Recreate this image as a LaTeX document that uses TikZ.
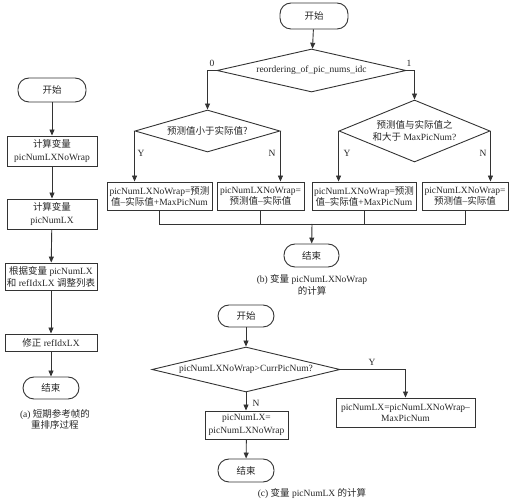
\documentclass[tikz,border=0pt]{standalone}
\usepackage{fontspec}
\setmainfont{Liberation Serif}
\newfontfamily\cjk{Noto Sans CJK SC}
\newcommand{\zh}[1]{{\cjk #1}}
\usetikzlibrary{shapes.geometric,arrows.meta}

\begin{document}
\begin{tikzpicture}[x=1pt,y=-1pt,
    every node/.style={font=\fontsize{9.5}{13}\selectfont,text=black!85},
    line/.style={draw=black!80,line width=0.9pt},
    arrow/.style={line,-{Triangle[length=6pt,width=5pt]}},
    terminal/.style={line,rectangle,rounded corners=11pt,inner sep=0pt,minimum height=#1},
    terminal/.default=22pt,
    stepbox/.style={line,rectangle,align=center,inner sep=1pt},
    decision/.style={line,diamond,align=center,inner sep=0pt},
    branch/.style={inner sep=0pt},
    caption/.style={align=center,font=\fontsize{9.5}{11.5}\selectfont}]

    \useasboundingbox (0,0) rectangle (515,502);

    % draw chart (a)
    \node[terminal=24pt,minimum width=68pt] (aStart) at (52,90) {\zh{开始}};
    \node[stepbox,minimum width=90pt,minimum height=30pt] (aCalcWrap) at (52,151) {\zh{计算变量}\\picNumLXNoWrap};
    \node[stepbox,minimum width=90pt,minimum height=30pt] (aCalcLX) at (52,214) {\zh{计算变量}\\picNumLX};
    \node[stepbox,minimum width=92pt,minimum height=27pt,font=\fontsize{9.5}{12}\selectfont] (aAdjust) at (51,276.5) {\zh{根据变量} picNumLX\\\zh{和} refIdxLX \zh{调整列表}};
    \node[stepbox,minimum width=92pt,minimum height=17pt] (aFix) at (51,342.5) {\zh{修正} refIdxLX};
    \node[terminal,minimum width=56pt] (aEnd) at (51,388) {\zh{结束}};
    \node[caption] (aCap) at (55,419.5) {(a) \zh{短期参考帧的}\\\zh{重排序过程}};

    \draw[arrow] (aStart) -- (aCalcWrap);
    \draw[arrow] (aCalcWrap) -- (aCalcLX);
    \draw[arrow] (aCalcLX) -- (aAdjust);
    \draw[arrow] (aAdjust) -- (aFix);
    \draw[arrow] (aFix) -- (aEnd);

    % draw chart (b)
    \node[terminal=26pt,minimum width=68pt] (bStart) at (314,16) {\zh{开始}};
    \node[decision,shape aspect=4.4,minimum width=189pt,minimum height=43pt] (bIdc) at (311.5,70.5) {reordering\_of\_pic\_nums\_idc};
    \node[decision,shape aspect=3.45,minimum width=145pt,minimum height=42pt] (bLess) at (207.5,131) {\zh{预测值小于实际值?}};
    \node[decision,shape aspect=2.44,minimum width=151pt,minimum height=62pt,font=\fontsize{9.5}{12}\selectfont] (bSum) at (414.5,131) {\zh{预测值与实际值之}\\\zh{和大于} MaxPicNum?};
    \node[stepbox,minimum width=105pt,minimum height=28pt,font=\fontsize{9.5}{11}\selectfont] (bBoxA) at (159.5,196) {picNumLXNoWrap=\zh{预测}\\\zh{值}--\zh{实际值}+MaxPicNum};
    \node[stepbox,minimum width=87pt,minimum height=28pt,font=\fontsize{9.5}{11}\selectfont] (bBoxB) at (260.5,196) {picNumLXNoWrap=\\\zh{预测值}--\zh{实际值}};
    \node[stepbox,minimum width=104pt,minimum height=28pt,font=\fontsize{9.5}{11}\selectfont] (bBoxC) at (364,196) {picNumLXNoWrap=\zh{预测}\\\zh{值}--\zh{实际值}+MaxPicNum};
    \node[stepbox,minimum width=86pt,minimum height=28pt,font=\fontsize{9.5}{11}\selectfont] (bBoxD) at (465,196) {picNumLXNoWrap=\\\zh{预测值}--\zh{实际值}};
    \coordinate (bJoin) at (312,224);
    \node[terminal=23pt,minimum width=55pt] (bEnd) at (311.5,255.5) {\zh{结束}};
    \node[caption] (bCap) at (312,285) {(b) \zh{变量} picNumLXNoWrap\\\zh{的计算}};

    % draw branch labels
    \node[branch] (bZero) at (212,63) {0};
    \node[branch] (bOne) at (409,63) {1};
    \node[branch] (bLessY) at (141,153) {Y};
    \node[branch] (bLessN) at (272,153) {N};
    \node[branch] (bSumY) at (347,153) {Y};
    \node[branch] (bSumN) at (483,153) {N};

    \draw[arrow] (bStart) -- (bIdc);
    \draw[arrow] (bIdc.west) -| (bLess.north);
    \draw[arrow] (bIdc.east) -| (bSum.north);
    \draw[arrow] (bLess.west) -- (bLess.west |- bBoxA.north);
    \draw[arrow] (bLess.east) -- (bLess.east |- bBoxB.north);
    \draw[arrow] (bSum.west) -- (bSum.west |- bBoxC.north);
    \draw[arrow] (bSum.east) -- (bSum.east |- bBoxD.north);
    \draw[line] (bBoxA.south) |- (bBoxD.south |- bJoin) -- (bBoxD.south);
    \draw[line] (bBoxB.south) -- (bBoxB.south |- bJoin);
    \draw[line] (bBoxC.south) -- (bBoxC.south |- bJoin);
    \draw[arrow] (bJoin) -- (bEnd);

    % draw chart (c)
    \node[terminal,minimum width=56pt] (cStart) at (246,316) {\zh{开始}};
    \node[decision,shape aspect=4.18,minimum width=188pt,minimum height=45pt] (cCmp) at (246,369.5) {picNumLXNoWrap>CurrPicNum?};
    \node[stepbox,minimum width=139pt,minimum height=29pt,font=\fontsize{9.5}{11}\selectfont] (cWrap) at (405.5,412.5) {picNumLX=picNumLXNoWrap--\\MaxPicNum};
    \node[stepbox,minimum width=83pt,minimum height=28pt] (cKeep) at (246.5,425) {picNumLX=\\picNumLXNoWrap};
    \node[terminal=23pt,minimum width=56pt] (cEnd) at (246,470.5) {\zh{结束}};
    \node[caption] (cCap) at (312,493) {(c) \zh{变量} picNumLX \zh{的计算}};
    \node[branch] (cY) at (372,362) {Y};
    \node[branch] (cN) at (256,403) {N};

    \draw[arrow] (cStart) -- (cCmp);
    \draw[arrow] (cCmp.east) -| (cWrap.north);
    \draw[arrow] (cCmp.south) -- (cKeep.north -| cCmp.south);
    \draw[arrow] (cKeep) -- (cEnd);

\end{tikzpicture}
\end{document}
